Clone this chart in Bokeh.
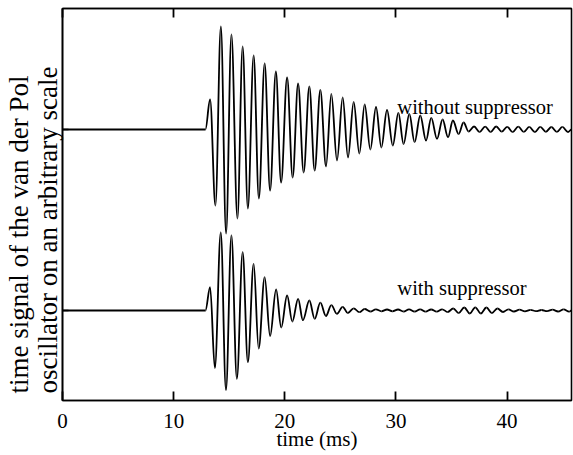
from bokeh.plotting import figure
from bokeh.models import LinearAxis, FixedTicker, Label, Range1d, ColumnDataSource, Title
from bokeh.embed import file_html
from bokeh.resources import INLINE

# ---- data (time in ms, signal in arbitrary units) ----
# extrema of the signal WITHOUT suppressor
t_without = [0.0, 12.86, 13.28, 13.76, 14.25, 14.72, 15.20, 15.74, 16.21, 16.68,
             17.20, 17.67, 18.19, 18.68, 19.20, 19.67, 20.21, 20.71, 21.20, 21.70,
             22.21, 22.69, 23.20, 23.71, 24.19, 24.70, 25.21, 25.69, 26.20, 26.71,
             27.19, 27.70, 28.21, 28.69, 29.20, 29.72, 30.22, 30.69, 31.21, 31.68,
             32.19, 32.71, 33.18, 33.70, 34.20, 34.69, 35.13, 35.64, 36.09, 36.54,
             37.03, 37.53, 38.03, 38.52, 39.02, 39.52, 40.01, 40.51, 41.01, 41.50,
             42.00, 42.50, 42.99, 43.49, 43.99, 44.48, 44.98, 45.48, 45.8]
v_without = [0.0, 0.0, 0.30, -0.76, 1.03, -1.04, 0.95, -0.89, 0.83, -0.79,
             0.74, -0.69, 0.66, -0.61, 0.58, -0.53, 0.52, -0.48, 0.46, -0.43,
             0.43, -0.41, 0.395, -0.37, 0.355, -0.31, 0.32, -0.28, 0.275, -0.24,
             0.25, -0.20, 0.225, -0.18, 0.195, -0.16, 0.167, -0.145, 0.155, -0.127,
             0.14, -0.11, 0.117, -0.093, 0.10, -0.077, 0.09, -0.045, 0.07, -0.02,
             0.03, -0.025, 0.028, -0.025, 0.03, -0.022, 0.027, -0.025, 0.028, -0.024,
             0.026, -0.025, 0.027, -0.023, 0.025, -0.024, 0.026, -0.025, 0.0]

# extrema of the signal WITH suppressor
t_with = [0.0, 12.86, 13.28, 13.71, 14.24, 14.71, 15.20, 15.69, 16.21, 16.68,
          17.20, 17.65, 18.19, 18.68, 19.22, 19.68, 20.21, 20.68, 21.20, 21.63,
          22.21, 22.69, 23.20, 23.70, 24.19, 24.69, 25.21, 25.67, 26.20, 26.71,
          27.19, 27.70, 28.20, 28.70, 29.20, 29.69, 30.19, 30.69, 31.18, 31.68,
          32.18, 32.67, 33.17, 33.67, 34.16, 34.66, 35.16, 35.65, 36.15, 36.65,
          37.14, 37.64, 38.14, 38.63, 39.13, 39.63, 40.12, 40.62, 41.12, 41.61,
          42.11, 42.61, 43.10, 43.60, 44.10, 44.59, 45.09, 45.59, 45.8]
v_with = [0.0, 0.0, 0.233, -0.575, 0.78, -0.795, 0.75, -0.683, 0.583, -0.517,
          0.467, -0.38, 0.333, -0.255, 0.212, -0.17, 0.15, -0.11, 0.117, -0.097,
          0.10, -0.083, 0.078, -0.055, 0.053, -0.033, 0.037, -0.025, 0.022, -0.017,
          0.015, -0.01, 0.012, -0.008, 0.01, -0.008, 0.01, -0.01, 0.012, -0.01,
          0.012, -0.012, 0.01, -0.012, 0.012, -0.015, 0.02, -0.025, 0.03, -0.03,
          0.032, -0.03, 0.03, -0.025, 0.02, -0.015, 0.012, -0.01, 0.008, -0.008,
          0.006, -0.006, 0.005, -0.006, 0.008, -0.01, 0.012, -0.012, 0.0]

offset_without = 1.81   # vertical offset of the upper trace
offset_with = 0.0
x_ticks = [0, 10, 20, 30, 40]
y_label_lines = ["time signal of the van der Pol", "oscillator on an arbitrary scale"]
x_label = "time (ms)"
curve_labels = ["without suppressor", "with suppressor"]

FONT = "Liberation Serif"


def bezier_source(ts, vs, off):
    # smooth half-wave between consecutive extrema (horizontal tangents)
    d = dict(x0=[], y0=[], x1=[], y1=[], cx0=[], cy0=[], cx1=[], cy1=[])
    for i in range(len(ts) - 1):
        a, b = ts[i], ts[i + 1]
        ya, yb = vs[i] + off, vs[i + 1] + off
        h = (b - a) * 0.36
        d["x0"].append(a); d["y0"].append(ya)
        d["x1"].append(b); d["y1"].append(yb)
        d["cx0"].append(a + h); d["cy0"].append(ya)
        d["cx1"].append(b - h); d["cy1"].append(yb)
    return ColumnDataSource(d)


p = figure(width=573, height=455, x_range=Range1d(0, 45.8), y_range=Range1d(-0.90, 3.02),
           output_backend="svg", toolbar_location=None,
           min_border_left=62, min_border_right=2, min_border_top=8, min_border_bottom=55)
p.xgrid.visible = False
p.ygrid.visible = False
p.outline_line_color = "black"
p.outline_line_width = 1.6
p.background_fill_color = "white"
p.border_fill_color = "white"

for ts, vs, off in ((t_without, v_without, offset_without), (t_with, v_with, offset_with)):
    p.bezier(x0="x0", y0="y0", x1="x1", y1="y1", cx0="cx0", cy0="cy0", cx1="cx1", cy1="cy1",
             source=bezier_source(ts, vs, off), line_color="black", line_width=1.8)

xa = p.xaxis[0]
xa.ticker = FixedTicker(ticks=x_ticks)
xa.major_tick_in = 9
xa.major_tick_out = 0
xa.major_tick_line_color = "black"
xa.major_tick_line_width = 1.8
xa.minor_tick_in = 0
xa.minor_tick_out = 0
xa.axis_line_width = 1.6
xa.major_label_text_font = FONT
xa.major_label_text_font_size = "21px"
xa.major_label_text_color = "black"
xa.major_label_standoff = 13
xa.axis_label = x_label
xa.axis_label_text_font = FONT
xa.axis_label_text_font_style = "normal"
xa.axis_label_text_font_size = "21px"
xa.axis_label_text_color = "black"
xa.axis_label_standoff = -4

top = LinearAxis(ticker=FixedTicker(ticks=x_ticks), major_tick_in=9, major_tick_out=0,
                 major_tick_line_color="black", major_tick_line_width=1.8,
                 minor_tick_in=0, minor_tick_out=0, major_label_text_font_size="0px",
                 major_label_standoff=0, axis_line_width=1.6)
p.add_layout(top, "above")

ya = p.yaxis[0]
ya.ticker = FixedTicker(ticks=[offset_with, offset_without])
ya.major_tick_in = 6
ya.major_tick_out = 0
ya.major_tick_line_width = 1.6
ya.minor_tick_in = 0
ya.minor_tick_out = 0
ya.major_label_text_font_size = "0px"
ya.major_label_standoff = 0
ya.axis_line_width = 1.6

# two-line y label: inner line first, outer line second
p.add_layout(Title(text=y_label_lines[1], align="left", offset=7, standoff=0,
                   text_font=FONT, text_font_size="27px", text_font_style="normal",
                   text_color="black"), "left")
p.add_layout(Title(text=y_label_lines[0], align="left", offset=7, standoff=-7,
                   text_font=FONT, text_font_size="27px", text_font_style="normal",
                   text_color="black"), "left")

p.add_layout(Label(x=30.13, y=2.04, text=curve_labels[0], text_align="left",
                   text_baseline="alphabetic", text_font=FONT, text_font_size="20.5px",
                   text_color="black"))
p.add_layout(Label(x=30.13, y=0.23, text=curve_labels[1], text_align="left",
                   text_baseline="alphabetic", text_font=FONT, text_font_size="20.5px",
                   text_color="black"))

open("out.html", "w").write(file_html(p, INLINE))
